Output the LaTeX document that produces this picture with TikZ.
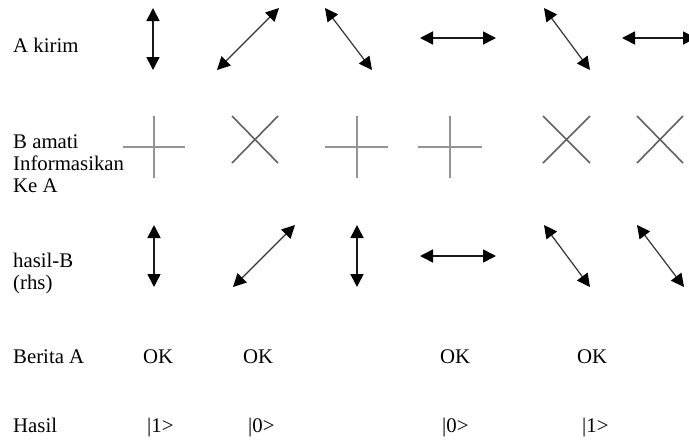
\documentclass[tikz,border=0pt]{standalone}
\usepackage{fontspec}
\setmainfont{Liberation Serif}
\usetikzlibrary{arrows.meta}
\begin{document}
\begin{tikzpicture}[x=1pt,y=-1pt,
  lbl/.style={anchor=base west,inner sep=0pt,font=\fontsize{20.8}{22}\selectfont},
  val/.style={anchor=base west,inner sep=0pt,font=\fontsize{20.8}{22}\selectfont},
  dbl/.style={{Triangle[length=13pt,width=13pt,color=black]}-{Triangle[length=13pt,width=13pt,color=black]},line width=1.6pt,draw=black!90},
  dbldiag/.style={{Triangle[length=13pt,width=13pt,color=black]}-{Triangle[length=13pt,width=13pt,color=black]},line width=1.2pt,draw=black!80},
  plusline/.style={line width=1.8pt,draw=black!42},
  xline/.style={line width=1.6pt,draw=black!62}]
\useasboundingbox (0,0) rectangle (689,440);
% labels
\node[lbl] (l1) at (13,52) {A kirim};
\node[lbl] (l2a) at (13,148) {B amati};
\node[lbl] (l2b) at (13,170) {Informasikan};
\node[lbl] (l2c) at (13,192) {Ke A};
\node[lbl] (l3a) at (13,267) {hasil-B};
\node[lbl] (l3b) at (13,289) {(rhs)};
\node[lbl] (l4) at (13,363) {Berita A};
\node[lbl] (l5) at (13,432) {Hasil};
% row 1: A kirim
\draw[dbl] (153,8) -- (153,70);
\draw[dbldiag] (217,70) -- (279,8);
\draw[dbldiag] (325,8) -- (372,70);
\draw[dbl] (420,38) -- (496,38);
\draw[dbldiag] (544,8) -- (590,70);
\draw[dbl] (622,38) -- (696,38);
% row 2: B amati
\draw[plusline] (123,147) -- (185,147) (154,116) -- (154,178);
\draw[xline] (232,116) -- (278,163) (232,163) -- (278,116);
\draw[plusline] (325,147) -- (388,147) (357,116) -- (357,178);
\draw[plusline] (418,147) -- (482,147) (450,116) -- (450,178);
\draw[xline] (543,116) -- (590,163) (543,163) -- (590,116);
\draw[xline] (637,116) -- (683,163) (637,163) -- (683,116);
% row 3: hasil-B
\draw[dbl] (154,225) -- (154,287);
\draw[dbldiag] (233,287) -- (295,225);
\draw[dbl] (357,225) -- (357,287);
\draw[dbl] (420,256) -- (496,256);
\draw[dbldiag] (544,225) -- (590,287);
\draw[dbldiag] (637,225) -- (684,287);
% row 4: Berita A
\node[val] (ok1) at (143,363) {OK};
\node[val] (ok2) at (243,363) {OK};
\node[val] (ok3) at (440,363) {OK};
\node[val] (ok4) at (577,363) {OK};
% row 5: Hasil
\node[val] (h1) at (147,432) {|1>};
\node[val] (h2) at (248,432) {|0>};
\node[val] (h3) at (442,432) {|0>};
\node[val] (h4) at (582,432) {|1>};
\end{tikzpicture}
\end{document}
